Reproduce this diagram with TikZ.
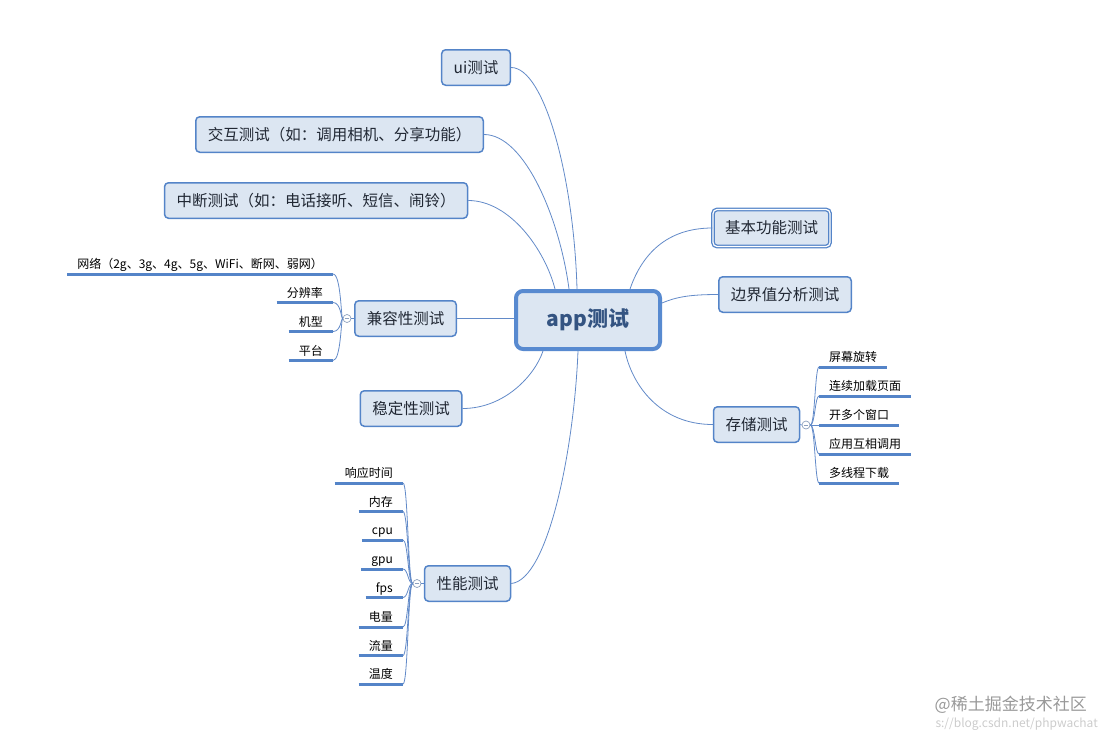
\documentclass[tikz,border=0pt]{standalone}
\usepackage{fontspec}
\newfontfamily\cjk{Noto Sans CJK SC}
\usetikzlibrary{calc}

\definecolor{rootline}{RGB}{88,138,208}
\definecolor{topicline}{RGB}{84,132,200}
\definecolor{topicfill}{RGB}{220,230,242}
\definecolor{linkblue}{RGB}{98,138,200}
\definecolor{rootink}{RGB}{52,84,130}
\definecolor{topicink}{RGB}{33,40,52}
\definecolor{foldgray}{RGB}{140,160,190}

\tikzset{
	topic/.style={draw=topicline, fill=topicfill, line width=1.5pt, rounded corners=4pt,
		minimum height=35.5pt, inner xsep=12pt, text=topicink, font=\cjk\fontsize{15.5}{18}\selectfont},
	root/.style={topic, draw=rootline, line width=4pt, rounded corners=7pt, minimum width=144pt,
		minimum height=58pt, text=rootink, font=\cjk\bfseries\fontsize{21}{24}\selectfont},
	chosen/.style={topic, line width=1.3pt, double=white, double distance=1.2pt, minimum height=37pt},
	leaf/.style={inner xsep=10pt, inner ysep=3pt, text height=9.5pt, text depth=2pt, text=black,
		font=\cjk\fontsize{12}{14}\selectfont},
	uline/.style={draw=topicline, line width=3pt},
	link/.style={draw=linkblue, line width=0.8pt},
	fold/.style={circle, draw=foldgray, fill=white, line width=0.7pt, minimum size=8pt, inner sep=0pt,
		path picture={\draw[foldgray, line width=0.6pt] ([xshift=1.8pt]path picture bounding box.west)
			-- ([xshift=-1.8pt]path picture bounding box.east);}}
}

\begin{document}
\begin{tikzpicture}[x=1pt,y=-1pt]
	\useasboundingbox (0,0) rectangle (1108,737);

% CENTRE
	\node[root] (app) at (588,320) {app测试};

% BRANCHES

	% left
	\node[topic] (ui) at (476,67.5) {ui测试};
	\node[topic] (jh) at (339.5,134.5) {交互测试（如：调用相机、分享功能）};
	\node[topic] (zd) at (316,200.5) {中断测试（如：电话接听、短信、闹铃）};
	\node[topic] (jr) at (405.5,318.5) {兼容性测试};
	\node[topic] (wd) at (411,408.5) {稳定性测试};
	\node[topic] (xn) at (467.5,583.5) {性能测试};

	% right
	\node[chosen] (jb) at (771.5,228) {基本功能测试};
	\node[topic] (bj) at (785,294.5) {边界值分析测试};
	\node[topic] (cc) at (756.5,424.5) {存储测试};

	\draw[link] (ui.east) .. controls (545,67.5) and (574,180) .. (app.north -| 577,0);
	\draw[link] (jh.east) .. controls (525,134.5) and (560,220) .. (app.north -| 569,0);
	\draw[link] (zd.east) .. controls (510,200.5) and (545,250) .. (app.north -| 555,0);
	\draw[link] (jr.east) -- (app.west |- jr.east);
	\draw[link] (wd.east) .. controls (505,408.5) and (535,375) .. (app.south -| 543,0);
	\draw[link] (xn.east) .. controls (548,580) and (574,450) .. (app.south -| 578,0);
	\draw[link] (jb.west) .. controls (662,228) and (640,260) .. (app.north -| 630,0);
	\draw[link] (bj.west) .. controls (690,294.5) and (676,297) .. (app.east |- 0,303);
	\draw[link] (cc.west) .. controls (660,424.5) and (632,385) .. (app.south -| 625,0);

% LEAVES

	% compatibilite
	\node[fold] (jrfold) at (347,318.5) {};
	\draw[link] (jr.west) -- (jrfold.east);
	\foreach \n/\y/\t in {jr1/274/{网络（2g、3g、4g、5g、WiFi、断网、弱网）}, jr2/302.5/分辨率,
		jr3/331.5/机型, jr4/360.5/平台}{
		\node[leaf, anchor=south east] (\n) at (333,\y) {\t};
		\draw[uline] (\n.south west) -- (\n.south east);
		\draw[link] (jrfold.west) .. controls (341,318.5) and (341,\y) .. (\n.south east);
	}

	% performance
	\node[fold] (xnfold) at (417,583.5) {};
	\draw[link] (xn.west) -- (xnfold.east);
	\foreach \n/\y/\t in {xn1/483/响应时间, xn2/511.5/内存, xn3/540/cpu, xn4/569/gpu,
		xn5/597.5/fps, xn6/627/电量, xn7/655.5/流量, xn8/684/温度}{
		\node[leaf, anchor=south east] (\n) at (403,\y) {\t};
		\draw[uline] (\n.south west) -- (\n.south east);
		\draw[link] (xnfold.west) .. controls (408,583.5) and (408,\y) .. (\n.south east);
	}

	% stockage
	\node[fold] (ccfold) at (806,425) {};
	\draw[link] (cc.east) -- (ccfold.west);
	\foreach \n/\y/\t in {cc1/367/屏幕旋转, cc2/396/连续加载页面, cc3/425/开多个窗口,
		cc4/454/应用互相调用, cc5/483/多线程下载}{
		\node[leaf, anchor=south west] (\n) at (819,\y) {\t};
		\draw[uline] (\n.south west) -- (\n.south east);
		\draw[link] (ccfold.east) .. controls (815,425) and (815,\y) .. (\n.south west);
	}

% WATERMARK
	\node[text=black!20, font=\cjk\fontsize{12}{14}\selectfont, anchor=east, inner sep=0pt] (csdn) at (1098,724) {s://blog.csdn.net/phpwachat};
	\node[text=black!40, font=\cjk\fontsize{17}{20}\selectfont, anchor=east, inner sep=0pt] (juejin) at (1087,705) {@稀土掘金技术社区};

\end{tikzpicture}
\end{document}
